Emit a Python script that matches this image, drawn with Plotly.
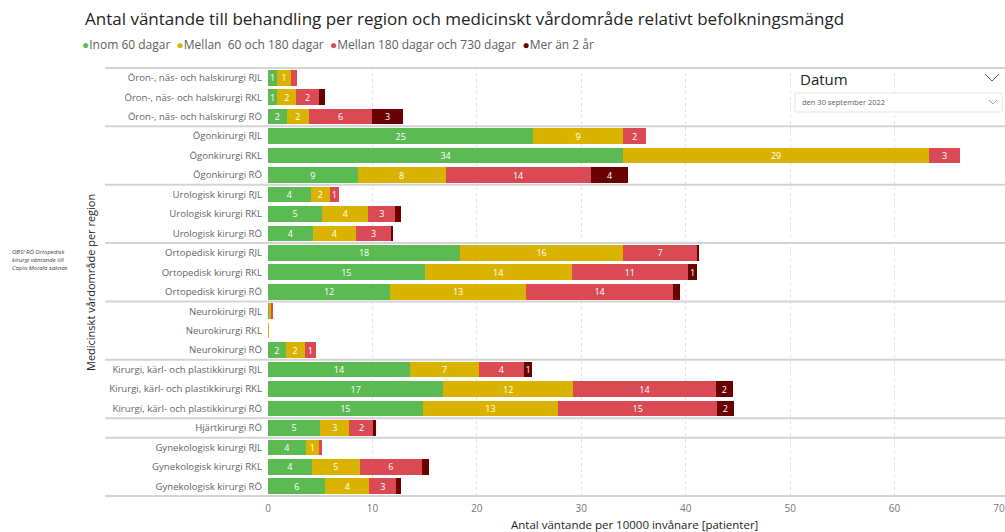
import plotly.graph_objects as go

# Row labels: care area + region, top to bottom
rows = [
    "Öron-, näs- och halskirurgi RJL",
    "Öron-, näs- och halskirurgi RKL",
    "Öron-, näs- och halskirurgi RÖ",
    "Ögonkirurgi RJL",
    "Ögonkirurgi RKL",
    "Ögonkirurgi RÖ",
    "Urologisk kirurgi RJL",
    "Urologisk kirurgi RKL",
    "Urologisk kirurgi RÖ",
    "Ortopedisk kirurgi RJL",
    "Ortopedisk kirurgi RKL",
    "Ortopedisk kirurgi RÖ",
    "Neurokirurgi RJL",
    "Neurokirurgi RKL",
    "Neurokirurgi RÖ",
    "Kirurgi, kärl- och plastikkirurgi RJL",
    "Kirurgi, kärl- och plastikkirurgi RKL",
    "Kirurgi, kärl- och plastikkirurgi RÖ",
    "Hjärtkirurgi RÖ",
    "Gynekologisk kirurgi RJL",
    "Gynekologisk kirurgi RKL",
    "Gynekologisk kirurgi RÖ",
]

# Number of rows belonging to each care area (for the group separators)
group_sizes = [3, 3, 3, 3, 3, 3, 1, 3]

# Waiting patients per 10000 inhabitants
inom_60 = [0.9, 0.9, 1.8, 25.4, 34.0, 8.6, 4.1, 5.2, 4.3, 18.4, 15.0, 11.7,
           0.15, 0.0, 1.7, 13.6, 16.8, 14.8, 5.0, 3.6, 4.2, 5.5]
mellan_60_180 = [1.3, 1.8, 2.1, 8.6, 29.3, 8.4, 1.8, 4.4, 4.1, 15.6, 14.1, 13.0,
                 0.1, 0.04, 1.8, 6.6, 12.4, 13.0, 2.8, 1.3, 4.6, 4.2]
mellan_180_730 = [0.6, 2.2, 6.1, 2.2, 3.0, 13.9, 0.9, 2.6, 3.4, 7.1, 11.1, 14.1,
                  0.2, 0.0, 1.1, 4.3, 13.7, 15.2, 2.3, 0.3, 5.9, 2.6]
mer_2_ar = [0.0, 0.6, 2.9, 0.0, 0.0, 3.6, 0.0, 0.5, 0.15, 0.13, 0.9, 0.7,
            0.0, 0.0, 0.0, 0.8, 1.6, 1.6, 0.2, 0.0, 0.7, 0.4]

series_names = ["Inom 60 dagar", "Mellan\u00a0\u00a060 och 180 dagar",
                "Mellan 180 dagar och 730 dagar", "Mer än 2 år"]
series_values = [inom_60, mellan_60_180, mellan_180_730, mer_2_ar]
series_colors = ["#5BBA52", "#D9B300", "#DA4A55", "#6A0000"]

x_ticks = [0, 10, 20, 30, 40, 50, 60, 70]

W, H = 1005, 532
ML, MR, MT, MB = 268, 6, 67, 35
PW, PH = W - ML - MR, H - MT - MB
FONT = "Open Sans"


def px(x):
    return (x - ML) / PW


def py(y):
    return (H - MB - y) / PH


fig = go.Figure()
for name, vals, color in zip(series_names, series_values, series_colors):
    fig.add_trace(go.Bar(
        y=rows, x=vals, orientation="h", name=name,
        marker=dict(color=color, line=dict(width=0)),
        text=[f"{v:.0f}" if v >= 0.75 else "" for v in vals],
        textposition="inside", insidetextanchor="middle", textangle=0,
        insidetextfont=dict(color="white", size=9, family=FONT),
        showlegend=False, hoverinfo="x+y+name",
    ))

# Horizontal separators between care areas
shapes = []
b = -0.5
bounds = [b]
for g in group_sizes:
    b += g
    bounds.append(b)
for yb in bounds:
    shapes.append(dict(type="line", xref="paper", yref="y",
                       x0=px(105), x1=px(1005), y0=yb, y1=yb,
                       line=dict(color="#d4d4d4", width=2)))

# Date slicer decoration
shapes.append(dict(type="rect", xref="paper", yref="paper",
                   x0=px(795), x1=px(1002), y0=py(112), y1=py(93),
                   line=dict(color="#e6e6e6", width=1), fillcolor="white"))
shapes.append(dict(type="path", xref="paper", yref="paper",
                   path=f"M {px(985)} {py(74)} L {px(992)} {py(81)} L {px(999)} {py(74)}",
                   line=dict(color="#605E5C", width=1)))
shapes.append(dict(type="path", xref="paper", yref="paper",
                   path=f"M {px(989)} {py(100)} L {px(993)} {py(104)} L {px(997)} {py(100)}",
                   line=dict(color="#a0a0a0", width=1)))

legend_html = "  ".join(
    f"<span style='color:{c}'>●</span>{n}" for n, c in zip(series_names, series_colors)
)

annotations = [
    dict(text="Antal väntande till behandling per region och medicinskt vårdområde relativt befolkningsmängd",
         x=px(83), y=py(18), xref="paper", yref="paper", xanchor="left", yanchor="middle",
         showarrow=False, font=dict(size=17, color="#252423", family=FONT)),
    dict(text=legend_html, x=px(80), y=py(44), xref="paper", yref="paper",
         xanchor="left", yanchor="middle", showarrow=False,
         font=dict(size=12, color="#605E5C", family=FONT)),
    dict(text="Medicinskt vårdområde per region", x=px(90), y=py(283),
         xref="paper", yref="paper", xanchor="center", yanchor="middle",
         textangle=-90, showarrow=False,
         font=dict(size=11, color="#252423", family=FONT)),
    dict(text="Antal väntande per 10000 invånare [patienter]", x=px(634), y=py(524.5),
         xref="paper", yref="paper", xanchor="center", yanchor="middle",
         showarrow=False, font=dict(size=11.5, color="#252423", family=FONT)),
    dict(text="<i>OBS! RÖ Ortopedisk<br>kirurgi väntande till<br>Capio Motala saknas</i>",
         x=px(10), y=py(260), xref="paper", yref="paper", xanchor="left",
         yanchor="middle", align="left", showarrow=False,
         font=dict(size=6, color="#404040", family=FONT)),
    dict(text="Datum", x=px(798), y=py(79), xref="paper", yref="paper",
         xanchor="left", yanchor="middle", showarrow=False,
         font=dict(size=15, color="#252423", family=FONT)),
    dict(text="den 30 september 2022", x=px(800), y=py(102), xref="paper", yref="paper",
         xanchor="left", yanchor="middle", showarrow=False,
         font=dict(size=7.5, color="#605E5C", family=FONT)),
]

fig.update_layout(
    width=W, height=H,
    margin=dict(l=ML, r=MR, t=MT, b=MB, autoexpand=False),
    paper_bgcolor="white", plot_bgcolor="white",
    barmode="stack", bargap=0.2,
    font=dict(family=FONT),
    uniformtext=dict(minsize=8, mode="show"),
    shapes=shapes, annotations=annotations,
    xaxis=dict(range=[0, 70], tickvals=x_ticks, showgrid=True, griddash="dot",
               gridcolor="#e2e2e2", gridwidth=1, zeroline=False, showline=False,
               tickfont=dict(size=10, color="#777777", family=FONT), ticks="",
               ticklabelstandoff=4, ticklabeloverflow="allow"),
    yaxis=dict(type="category", autorange="reversed", showgrid=False, ticks="",
               tickfont=dict(size=9.6, color="#666666", family=FONT),
               ticklabelstandoff=5, showline=False, zeroline=False),
)

fig.write_html("out.html")
